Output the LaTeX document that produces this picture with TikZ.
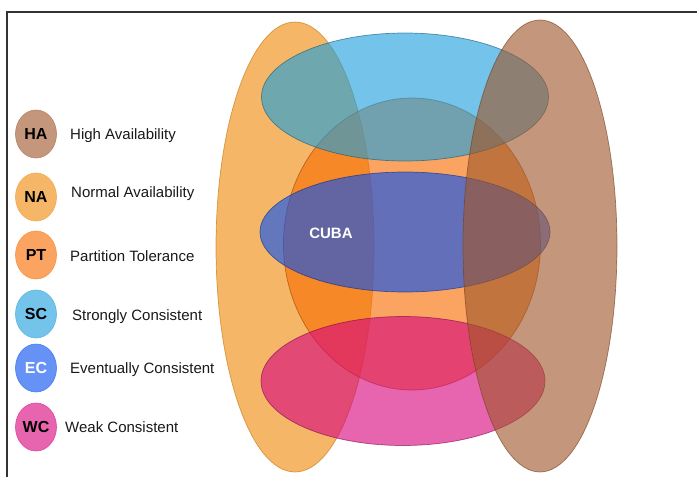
\documentclass[tikz,border=0pt]{standalone}
\usepackage{fontspec}
\setmainfont{Liberation Sans}
\usetikzlibrary{positioning,shapes.geometric}
\definecolor{cha}{RGB}{160,86,42}
\definecolor{cna}{RGB}{239,139,10}
\definecolor{cpt}{RGB}{248,108,0}
\definecolor{csc}{RGB}{29,158,221}
\definecolor{cec}{RGB}{9,80,241}
\definecolor{cwc}{RGB}{215,6,124}
\definecolor{framegray}{HTML}{333333}

\begin{document}
\begin{tikzpicture}[x=1pt,y=-1pt,
  set/.style={ellipse, inner sep=0pt, fill opacity=0.62, draw opacity=0.62, line width=0.7pt},
  key/.style={ellipse, inner sep=0pt, minimum width=41, minimum height=48, line width=0.6pt,
    font=\fontsize{16}{18}\selectfont\bfseries},
  keylbl/.style={anchor=base west, inner sep=0pt, font=\fontsize{15}{18}\selectfont, text=black!90}
]
  \useasboundingbox (0,0) rectangle (697,477);

  % --- khung ---
  \coordinate (frametr) at (697,12);
  \coordinate (frametl) at (7,12);
  \coordinate (framebl) at (7,477);
  \draw[framegray, line width=1.2pt] (frametr) -- (frametl) -- (framebl);

  % --- chú giải ---
  \foreach \s/\abbr/\cy/\lx/\ly/\tc/\txt in {
      cha/HA/134/70/134/black/High Availability,
      cna/NA/197/71/192/black/Normal Availability,
      cpt/PT/255/70/256/black/Partition Tolerance,
      csc/SC/314/72/315/black/Strongly Consistent,
      cec/EC/368/70/368/white/Eventually Consistent,
      cwc/WC/427/65/427/black/Weak Consistent} {
    \node[key, fill=\s!62, draw=\s!75, text=\tc] (key-\abbr) at (36,\cy) {\abbr};
    \node[keylbl] (lbl-\abbr) at (\lx,\ly+5.5) {\txt};
  }

  % --- các tập hợp ---
  \node[set, fill=cna, draw=cna!80!black, minimum width=158, minimum height=450] (na) at (295,247) {};
  \node[set, fill=cpt, draw=cpt!60!black, minimum width=257, minimum height=292] (pt) at (412,244) {};
  \node[set, fill=csc, draw=csc!55!black, minimum width=287, minimum height=128] (sc) at (405,97) {};
  \node[set, fill=cec, draw=cec!55!black, minimum width=290, minimum height=120] (ec) at (405,232) {};
  \node[set, fill=cwc, draw=cwc!60!black, minimum width=284, minimum height=129] (wc) at (403,381) {};
  \node[set, fill=cha, draw=cha!70!black, minimum width=154, minimum height=452] (ha) at (540,246) {};

  \node[font=\fontsize{15}{18}\selectfont\bfseries, text=white] (cuba) at (331,233) {CUBA};
\end{tikzpicture}
\end{document}
